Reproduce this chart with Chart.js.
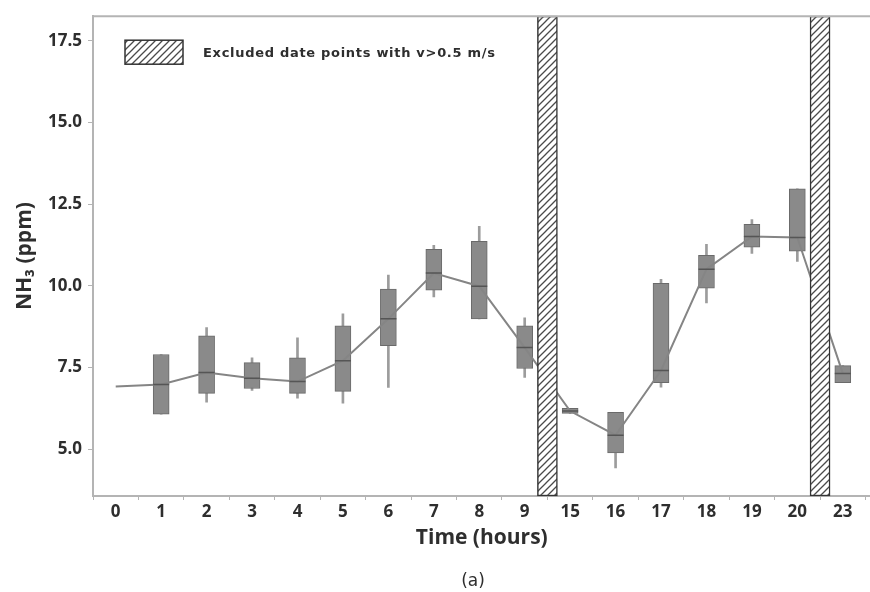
<!DOCTYPE html>
<html>
<head>
<meta charset="utf-8">
<script src="https://cdn.jsdelivr.net/npm/chart.js@4.4.1/dist/chart.umd.min.js"></script>
<style>
  html, body { margin: 0; padding: 0; background: #fff; overflow: hidden; width: 870px; height: 592px; }
  .wrap { position: relative; width: 880px; height: 592px; }
  .caption {
    position: absolute; left: 0; top: 569px; width: 946px; text-align: center;
    font: 17px/22px "DejaVu Sans", sans-serif; color: #2e2e2e;
  }
</style>
</head>
<body>
<div class="wrap">
  <canvas id="nh3Chart"></canvas>
  <div class="caption">(a)</div>
</div>
<script>
// hours of the day that have measurements (the axis is categorical, gaps are excluded periods)
const hours = ["0", "1", "2", "3", "4", "5", "6", "7", "8", "9", "15", "16", "17", "18", "19", "20", "23"];

// NH3 (ppm) box plot values
const boxLow      = [null, 6.07, 6.71, 6.86, 6.71, 6.77, 8.17, 9.87, 8.99, 7.47, 6.10, 4.89, 7.04, 9.93, 11.18, 11.06, 7.04];
const boxHigh     = [null, 7.90, 8.47, 7.65, 7.80, 8.78, 9.90, 11.12, 11.36, 8.78, 6.25, 6.13, 10.08, 10.93, 11.88, 12.97, 7.56];
const whiskerLow  = [null, 6.07, 6.44, 6.80, 6.56, 6.41, 6.89, 9.66, 8.99, 7.20, 6.10, 4.43, 6.90, 9.48, 10.99, 10.75, 7.04];
const whiskerHigh = [null, 7.90, 8.72, 7.80, 8.41, 9.14, 10.33, 11.24, 11.82, 9.02, 6.25, 6.13, 10.20, 11.27, 12.03, 12.97, 7.56];
const medians     = [6.92, 6.98, 7.35, 7.17, 7.07, 7.71, 8.99, 10.39, 9.99, 8.11, 6.17, 5.43, 7.41, 10.51, 11.51, 11.48, 7.32];

// periods with wind speed above 0.5 m/s (between these hours)
const excludedGaps = [["9", "15"], ["20", "23"]];

const yTicks = [5, 7.5, 10, 12.5, 15, 17.5];
const yMin = 3.57;
const yMax = 18.25;

const axisGrey = "#b4b4b4";
const textDark = "#2e2e2e";

function hatchPattern() {
  const c = document.createElement("canvas");
  c.width = 7;
  c.height = 7;
  const g = c.getContext("2d");
  g.fillStyle = "#fff";
  g.fillRect(0, 0, 7, 7);
  g.strokeStyle = "#4a4a4a";
  g.lineWidth = 1.3;
  g.beginPath();
  g.moveTo(0, 7); g.lineTo(7, 0);
  g.moveTo(-1, 1); g.lineTo(1, -1);
  g.moveTo(6, 8); g.lineTo(8, 6);
  g.stroke();
  return g.createPattern(c, "repeat");
}

const hatch = hatchPattern();

const pts = (lo, hi) => hours.map((h, i) => (lo[i] == null ? null : { x: i, y: [lo[i], hi[i]] })).filter(Boolean);

// top frame line (the original has a border on top but none on the right)
const frameTop = {
  id: "frameTop",
  afterDraw(chart) {
    const { ctx, chartArea } = chart;
    ctx.save();
    ctx.strokeStyle = axisGrey;
    ctx.lineWidth = 2;
    ctx.beginPath();
    ctx.moveTo(chartArea.left, chartArea.top);
    ctx.lineTo(chartArea.right, chartArea.top);
    ctx.stroke();
    ctx.restore();
  },
};

// legend sits inside the plot, top left
const insideLegend = {
  id: "insideLegend",
  afterDraw(chart) {
    const { ctx, chartArea } = chart;
    const ds = chart.data.datasets[3];
    const x = chartArea.left + 32;
    const y = chartArea.top + 24;
    ctx.save();
    ctx.fillStyle = ds.backgroundColor;
    ctx.fillRect(x, y, 58, 24);
    ctx.strokeStyle = ds.borderColor;
    ctx.lineWidth = 1.5;
    ctx.strokeRect(x, y, 58, 24);
    ctx.fillStyle = textDark;
    ctx.font = "bold 13px 'DejaVu Sans'";
    ctx.letterSpacing = "0.7px";
    ctx.textBaseline = "middle";
    ctx.fillText(ds.label, x + 78, y + 13);
    ctx.restore();
  },
};

const ctx = document.getElementById("nh3Chart").getContext("2d");

new Chart(ctx, {
  type: "bar",
  data: {
    datasets: [
      {
        label: "whiskers",
        data: pts(whiskerLow, whiskerHigh),
        backgroundColor: "#9c9c9c",
        barThickness: 2,
        grouped: false,
        order: 5,
      },
      {
        label: "boxes",
        data: pts(boxLow, boxHigh),
        backgroundColor: "#8a8a8a",
        borderColor: "#6a6a6a",
        borderWidth: 1,
        borderSkipped: false,
        barThickness: 16,
        grouped: false,
        order: 4,
      },
      {
        type: "line",
        label: "median",
        data: medians.map((m, i) => ({ x: i, y: m })),
        borderColor: "#858585",
        borderWidth: 2,
        tension: 0,
        pointStyle: "line",
        pointRadius: (c) => (boxLow[c.dataIndex] == null ? 0 : 8),
        pointBorderColor: "#555",
        pointBorderWidth: 1.5,
        order: 3,
      },
      {
        label: "Excluded date points with v>0.5 m/s",
        data: excludedGaps.map((g) => ({
          x: (hours.indexOf(g[0]) + hours.indexOf(g[1])) / 2,
          y: [yMin, yMax],
        })),
        backgroundColor: hatch,
        borderColor: "#333",
        borderWidth: 1.5,
        borderSkipped: false,
        barThickness: 20,
        grouped: false,
        clip: 3,
        order: 1,
      },
    ],
  },
  options: {
    responsive: true,
    maintainAspectRatio: false,
    animation: false,
    layout: { padding: { top: 13, right: 0, bottom: 30, left: 0 } },
    plugins: {
      tooltip: { enabled: false },
      legend: { display: false },
    },
    scales: {
      x: {
        type: "linear",
        min: -0.5,
        max: 16.61,
        offset: false,
        afterBuildTicks: (scale) => {
          scale.ticks = hours.map((h, i) => ({ value: i }));
        },
        afterFit: (scale) => {
          scale.height = 66;
        },
        ticks: {
          callback: (v) => hours[v],
          color: textDark,
          padding: 2,
          maxRotation: 0,
          autoSkip: false,
          font: { family: "Open Sans", size: 17, weight: "bold" },
        },
        grid: { display: true, drawOnChartArea: false, tickLength: 4, color: axisGrey },
        border: { display: true, color: axisGrey, width: 2 },
        title: {
          display: true,
          text: "Time (hours)",
          color: textDark,
          font: { family: "Open Sans", size: 21, weight: "bold" },
          padding: { top: 0, bottom: 11 },
        },
      },
      y: {
        min: yMin,
        max: yMax,
        afterBuildTicks: (scale) => {
          scale.ticks = yTicks.map((v) => ({ value: v }));
        },
        afterFit: (scale) => {
          scale.width = 93;
        },
        ticks: {
          callback: (v) => v.toFixed(1),
          color: textDark,
          padding: 6,
          font: { family: "Open Sans", size: 17, weight: "bold" },
        },
        grid: { display: true, drawOnChartArea: false, tickLength: 5, color: axisGrey },
        border: { display: true, color: axisGrey, width: 2 },
        title: {
          display: true,
          text: "NH₃ (ppm)",
          color: textDark,
          font: { family: "Open Sans", size: 21, weight: "bold" },
          padding: { top: 12, bottom: 0 },
        },
      },
    },
  },
  plugins: [frameTop, insideLegend],
});
</script>
</body>
</html>
